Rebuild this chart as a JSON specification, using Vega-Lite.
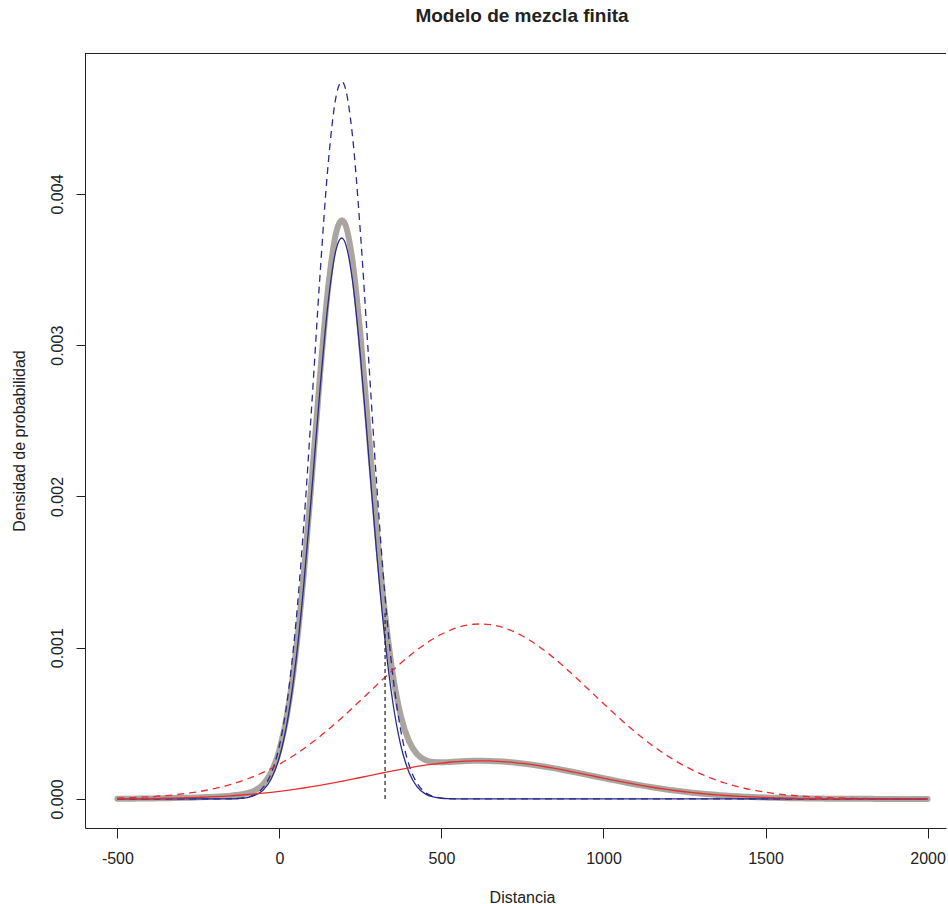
{
  "$schema": "https://vega.github.io/schema/vega-lite/v6.json",
  "width": 861,
  "height": 775,
  "autosize": "none",
  "padding": {"left": 85, "top": 53, "right": 2, "bottom": 76},
  "background": "white",
  "config": {
    "view": {"stroke": null},
    "font": "Liberation Sans",
    "axisX": {"labelExpr": "'' + datum.value", "titleX": 437, "titleY": 74, "titleAlign": "center", "titleBaseline": "alphabetic", "titleFontSize": 16, "titleFontWeight": "normal", "titleFont": "Liberation Sans", "titleColor": "#222222", "labelFont": "Liberation Sans", "labelFontSize": 16, "labelColor": "#222222", "labelBaseline": "alphabetic", "labelPadding": 25, "labelFlush": false, "labelOverlap": false, "tickSize": 10, "tickColor": "#222222", "domainColor": "#222222", "grid": false},
    "axisY": {"titleX": -60.5, "titleY": 387.5, "titleAngle": -90, "titleAlign": "center", "titleBaseline": "alphabetic", "titleFontSize": 16, "titleFontWeight": "normal", "titleFont": "Liberation Sans", "titleColor": "#222222", "labelFont": "Liberation Sans", "labelFontSize": 16, "labelColor": "#222222", "labelAngle": -90, "labelAlign": "center", "labelBaseline": "alphabetic", "labelPadding": 14, "labelFlush": false, "labelOverlap": false, "tickSize": 9, "tickColor": "#222222", "domainColor": "#222222", "grid": false}
  },
  "title": {"text": "Modelo de mezcla finita", "fontSize": 19, "fontWeight": "bold", "font": "Liberation Sans", "color": "#222222", "anchor": "middle", "dx": 6.5, "offset": 12, "baseline": "alphabetic"},
  "datasets": {
    "curves": [
      {"x": -500, "f1": 0, "b": 0, "f2": 5.95e-6, "r": 1.30e-6, "m": 1.30e-6},
      {"x": -475, "f1": 0, "b": 0, "f2": 7.52e-6, "r": 1.64e-6, "m": 1.64e-6},
      {"x": -450, "f1": 0, "b": 0, "f2": 9.43e-6, "r": 2.06e-6, "m": 2.06e-6},
      {"x": -425, "f1": 0, "b": 0, "f2": 1.178e-5, "r": 2.57e-6, "m": 2.57e-6},
      {"x": -400, "f1": 0, "b": 0, "f2": 1.463e-5, "r": 3.19e-6, "m": 3.19e-6},
      {"x": -375, "f1": 0, "b": 0, "f2": 1.808e-5, "r": 3.94e-6, "m": 3.94e-6},
      {"x": -350, "f1": 0, "b": 0, "f2": 2.223e-5, "r": 4.85e-6, "m": 4.85e-6},
      {"x": -325, "f1": 0, "b": 0, "f2": 2.718e-5, "r": 5.92e-6, "m": 5.92e-6},
      {"x": -300, "f1": 0, "b": 0, "f2": 3.306e-5, "r": 7.21e-6, "m": 7.21e-6},
      {"x": -275, "f1": 0, "b": 0, "f2": 4.000e-5, "r": 8.72e-6, "m": 8.72e-6},
      {"x": -250, "f1": 0, "b": 0, "f2": 4.814e-5, "r": 1.049e-5, "m": 1.049e-5},
      {"x": -225, "f1": 0, "b": 0, "f2": 5.763e-5, "r": 1.256e-5, "m": 1.256e-5},
      {"x": -200, "f1": 1e-7, "b": 1e-7, "f2": 6.866e-5, "r": 1.497e-5, "m": 1.507e-5},
      {"x": -175, "f1": 3.6e-7, "b": 2.8e-7, "f2": 8.133e-5, "r": 1.773e-5, "m": 1.80e-5},
      {"x": -150, "f1": 1.24e-6, "b": 9.7e-7, "f2": 9.584e-5, "r": 2.089e-5, "m": 2.19e-5},
      {"x": -125, "f1": 3.96e-6, "b": 3.10e-6, "f2": 1.1239e-4, "r": 2.450e-5, "m": 2.76e-5},
      {"x": -100, "f1": 1.16e-5, "b": 9.07e-6, "f2": 1.3110e-4, "r": 2.858e-5, "m": 3.77e-5},
      {"x": -75, "f1": 3.11e-5, "b": 2.43e-5, "f2": 1.5209e-4, "r": 3.316e-5, "m": 5.75e-5},
      {"x": -50, "f1": 7.63e-5, "b": 5.97e-5, "f2": 1.7553e-4, "r": 3.827e-5, "m": 9.80e-5},
      {"x": -25, "f1": 1.713e-4, "b": 1.340e-4, "f2": 2.0153e-4, "r": 4.393e-5, "m": 1.779e-4},
      {"x": 0, "f1": 3.523e-4, "b": 2.755e-4, "f2": 2.3016e-4, "r": 5.017e-5, "m": 3.257e-4},
      {"x": 25, "f1": 6.635e-4, "b": 5.189e-4, "f2": 2.6149e-4, "r": 5.700e-5, "m": 5.759e-4},
      {"x": 50, "f1": 1.144e-3, "b": 8.946e-4, "f2": 2.9553e-4, "r": 6.443e-5, "m": 9.590e-4},
      {"x": 75, "f1": 1.806e-3, "b": 1.4123e-3, "f2": 3.3226e-4, "r": 7.243e-5, "m": 1.4847e-3},
      {"x": 100, "f1": 2.611e-3, "b": 2.0418e-3, "f2": 3.7155e-4, "r": 8.100e-5, "m": 2.1228e-3},
      {"x": 125, "f1": 3.456e-3, "b": 2.7026e-3, "f2": 4.1334e-4, "r": 9.011e-5, "m": 2.7927e-3},
      {"x": 150, "f1": 4.188e-3, "b": 3.2750e-3, "f2": 4.5742e-4, "r": 9.972e-5, "m": 3.3747e-3},
      {"x": 175, "f1": 4.647e-3, "b": 3.6340e-3, "f2": 5.0355e-4, "r": 1.0977e-4, "m": 3.7438e-3},
      {"x": 192, "f1": 4.743e-3, "b": 3.7090e-3, "f2": 5.3595e-4, "r": 1.1684e-4, "m": 3.8258e-3},
      {"x": 200, "f1": 4.722e-3, "b": 3.6926e-3, "f2": 5.5146e-4, "r": 1.2022e-4, "m": 3.8128e-3},
      {"x": 225, "f1": 4.393e-3, "b": 3.4353e-3, "f2": 6.0075e-4, "r": 1.3096e-4, "m": 3.5663e-3},
      {"x": 250, "f1": 3.741e-3, "b": 2.9255e-3, "f2": 6.5100e-4, "r": 1.4192e-4, "m": 3.0674e-3},
      {"x": 275, "f1": 2.918e-3, "b": 2.2819e-3, "f2": 7.0176e-4, "r": 1.5298e-4, "m": 2.4349e-3},
      {"x": 300, "f1": 2.084e-3, "b": 1.6297e-3, "f2": 7.5252e-4, "r": 1.6405e-4, "m": 1.7938e-3},
      {"x": 325, "f1": 1.362e-3, "b": 1.0651e-3, "f2": 8.0274e-4, "r": 1.7500e-4, "m": 1.2401e-3},
      {"x": 350, "f1": 8.154e-4, "b": 6.376e-4, "f2": 8.5178e-4, "r": 1.8569e-4, "m": 8.233e-4},
      {"x": 375, "f1": 4.470e-4, "b": 3.496e-4, "f2": 8.9915e-4, "r": 1.9601e-4, "m": 5.456e-4},
      {"x": 400, "f1": 2.244e-4, "b": 1.755e-4, "f2": 9.4412e-4, "r": 2.0582e-4, "m": 3.813e-4},
      {"x": 425, "f1": 1.031e-4, "b": 8.06e-5, "f2": 9.8620e-4, "r": 2.1499e-4, "m": 2.956e-4},
      {"x": 450, "f1": 4.34e-5, "b": 3.39e-5, "f2": 1.02473e-3, "r": 2.2339e-4, "m": 2.573e-4},
      {"x": 475, "f1": 1.67e-5, "b": 1.31e-5, "f2": 1.05919e-3, "r": 2.3090e-4, "m": 2.440e-4},
      {"x": 500, "f1": 5.9e-6, "b": 4.6e-6, "f2": 1.08908e-3, "r": 2.3742e-4, "m": 2.420e-4},
      {"x": 525, "f1": 1.9e-6, "b": 1.5e-6, "f2": 1.11396e-3, "r": 2.4284e-4, "m": 2.443e-4},
      {"x": 550, "f1": 5.6e-7, "b": 4.4e-7, "f2": 1.13343e-3, "r": 2.4709e-4, "m": 2.475e-4},
      {"x": 575, "f1": 1.5e-7, "b": 1.2e-7, "f2": 1.14720e-3, "r": 2.5009e-4, "m": 2.5021e-4},
      {"x": 600, "f1": 0, "b": 0, "f2": 1.15506e-3, "r": 2.5181e-4, "m": 2.5181e-4},
      {"x": 625, "f1": 0, "b": 0, "f2": 1.15688e-3, "r": 2.5220e-4, "m": 2.5220e-4},
      {"x": 650, "f1": 0, "b": 0, "f2": 1.15264e-3, "r": 2.5128e-4, "m": 2.5128e-4},
      {"x": 675, "f1": 0, "b": 0, "f2": 1.14239e-3, "r": 2.4904e-4, "m": 2.4904e-4},
      {"x": 700, "f1": 0, "b": 0, "f2": 1.12631e-3, "r": 2.4553e-4, "m": 2.4553e-4},
      {"x": 725, "f1": 0, "b": 0, "f2": 1.10465e-3, "r": 2.4081e-4, "m": 2.4081e-4},
      {"x": 750, "f1": 0, "b": 0, "f2": 1.07771e-3, "r": 2.3494e-4, "m": 2.3494e-4},
      {"x": 775, "f1": 0, "b": 0, "f2": 1.04594e-3, "r": 2.2801e-4, "m": 2.2801e-4},
      {"x": 800, "f1": 0, "b": 0, "f2": 1.00977e-3, "r": 2.2013e-4, "m": 2.2013e-4},
      {"x": 825, "f1": 0, "b": 0, "f2": 9.6976e-4, "r": 2.1141e-4, "m": 2.1141e-4},
      {"x": 850, "f1": 0, "b": 0, "f2": 9.2646e-4, "r": 2.0197e-4, "m": 2.0197e-4},
      {"x": 875, "f1": 0, "b": 0, "f2": 8.8044e-4, "r": 1.9194e-4, "m": 1.9194e-4},
      {"x": 900, "f1": 0, "b": 0, "f2": 8.3231e-4, "r": 1.8144e-4, "m": 1.8144e-4},
      {"x": 925, "f1": 0, "b": 0, "f2": 7.8271e-4, "r": 1.7063e-4, "m": 1.7063e-4},
      {"x": 950, "f1": 0, "b": 0, "f2": 7.3221e-4, "r": 1.5962e-4, "m": 1.5962e-4},
      {"x": 975, "f1": 0, "b": 0, "f2": 6.8143e-4, "r": 1.4855e-4, "m": 1.4855e-4},
      {"x": 1000, "f1": 0, "b": 0, "f2": 6.3081e-4, "r": 1.3752e-4, "m": 1.3752e-4},
      {"x": 1025, "f1": 0, "b": 0, "f2": 5.8089e-4, "r": 1.2663e-4, "m": 1.2663e-4},
      {"x": 1050, "f1": 0, "b": 0, "f2": 5.3210e-4, "r": 1.1600e-4, "m": 1.1600e-4},
      {"x": 1075, "f1": 0, "b": 0, "f2": 4.8489e-4, "r": 1.0571e-4, "m": 1.0571e-4},
      {"x": 1100, "f1": 0, "b": 0, "f2": 4.3951e-4, "r": 9.581e-5, "m": 9.581e-5},
      {"x": 1125, "f1": 0, "b": 0, "f2": 3.9635e-4, "r": 8.640e-5, "m": 8.640e-5},
      {"x": 1150, "f1": 0, "b": 0, "f2": 3.5552e-4, "r": 7.750e-5, "m": 7.750e-5},
      {"x": 1175, "f1": 0, "b": 0, "f2": 3.1723e-4, "r": 6.916e-5, "m": 6.916e-5},
      {"x": 1200, "f1": 0, "b": 0, "f2": 2.8158e-4, "r": 6.138e-5, "m": 6.138e-5},
      {"x": 1225, "f1": 0, "b": 0, "f2": 2.4864e-4, "r": 5.420e-5, "m": 5.420e-5},
      {"x": 1250, "f1": 0, "b": 0, "f2": 2.1842e-4, "r": 4.762e-5, "m": 4.762e-5},
      {"x": 1275, "f1": 0, "b": 0, "f2": 1.9084e-4, "r": 4.160e-5, "m": 4.160e-5},
      {"x": 1300, "f1": 0, "b": 0, "f2": 1.6587e-4, "r": 3.616e-5, "m": 3.616e-5},
      {"x": 1325, "f1": 0, "b": 0, "f2": 1.4340e-4, "r": 3.126e-5, "m": 3.126e-5},
      {"x": 1350, "f1": 0, "b": 0, "f2": 1.2329e-4, "r": 2.688e-5, "m": 2.688e-5},
      {"x": 1375, "f1": 0, "b": 0, "f2": 1.0553e-4, "r": 2.300e-5, "m": 2.300e-5},
      {"x": 1400, "f1": 0, "b": 0, "f2": 8.983e-5, "r": 1.958e-5, "m": 1.958e-5},
      {"x": 1425, "f1": 0, "b": 0, "f2": 7.605e-5, "r": 1.658e-5, "m": 1.658e-5},
      {"x": 1450, "f1": 0, "b": 0, "f2": 6.406e-5, "r": 1.397e-5, "m": 1.397e-5},
      {"x": 1475, "f1": 0, "b": 0, "f2": 5.366e-5, "r": 1.170e-5, "m": 1.170e-5},
      {"x": 1500, "f1": 0, "b": 0, "f2": 4.472e-5, "r": 9.75e-6, "m": 9.75e-6},
      {"x": 1525, "f1": 0, "b": 0, "f2": 3.708e-5, "r": 8.08e-6, "m": 8.08e-6},
      {"x": 1550, "f1": 0, "b": 0, "f2": 3.058e-5, "r": 6.67e-6, "m": 6.67e-6},
      {"x": 1575, "f1": 0, "b": 0, "f2": 2.508e-5, "r": 5.47e-6, "m": 5.47e-6},
      {"x": 1600, "f1": 0, "b": 0, "f2": 2.047e-5, "r": 4.46e-6, "m": 4.46e-6},
      {"x": 1625, "f1": 0, "b": 0, "f2": 1.661e-5, "r": 3.62e-6, "m": 3.62e-6},
      {"x": 1650, "f1": 0, "b": 0, "f2": 1.342e-5, "r": 2.93e-6, "m": 2.93e-6},
      {"x": 1675, "f1": 0, "b": 0, "f2": 1.078e-5, "r": 2.35e-6, "m": 2.35e-6},
      {"x": 1700, "f1": 0, "b": 0, "f2": 8.62e-6, "r": 1.88e-6, "m": 1.88e-6},
      {"x": 1725, "f1": 0, "b": 0, "f2": 6.85e-6, "r": 1.49e-6, "m": 1.49e-6},
      {"x": 1750, "f1": 0, "b": 0, "f2": 5.42e-6, "r": 1.18e-6, "m": 1.18e-6},
      {"x": 1775, "f1": 0, "b": 0, "f2": 4.26e-6, "r": 9.3e-7, "m": 9.3e-7},
      {"x": 1800, "f1": 0, "b": 0, "f2": 3.33e-6, "r": 7.3e-7, "m": 7.3e-7},
      {"x": 1825, "f1": 0, "b": 0, "f2": 2.59e-6, "r": 5.7e-7, "m": 5.7e-7},
      {"x": 1850, "f1": 0, "b": 0, "f2": 2.01e-6, "r": 4.4e-7, "m": 4.4e-7},
      {"x": 1875, "f1": 0, "b": 0, "f2": 1.55e-6, "r": 3.4e-7, "m": 3.4e-7},
      {"x": 1900, "f1": 0, "b": 0, "f2": 1.19e-6, "r": 2.6e-7, "m": 2.6e-7},
      {"x": 1925, "f1": 0, "b": 0, "f2": 9.0e-7, "r": 2.0e-7, "m": 2.0e-7},
      {"x": 1950, "f1": 0, "b": 0, "f2": 6.9e-7, "r": 1.5e-7, "m": 1.5e-7},
      {"x": 1975, "f1": 0, "b": 0, "f2": 5.2e-7, "r": 1.1e-7, "m": 1.1e-7},
      {"x": 2000, "f1": 0, "b": 0, "f2": 3.9e-7, "r": 8e-8, "m": 8e-8}
    ],
    "cut": [{"x": 326, "y0": 0, "y1": 0.00125}],
    "frame": [{"top": 0.0049287}]
  },
  "layer": [
    {
      "data": {"name": "curves"},
      "mark": {"type": "line", "interpolate": "monotone", "strokeWidth": 6, "color": "#aaa59f", "strokeCap": "round", "clip": true},
      "encoding": {
        "x": {"field": "x", "type": "quantitative", "title": "Distancia", "scale": {"domain": [-600, 2057], "nice": false, "zero": false}, "axis": {"values": [-500, 0, 500, 1000, 1500, 2000]}},
        "y": {"field": "m", "type": "quantitative", "title": "Densidad de probabilidad", "scale": {"domain": [-0.000192, 0.004932], "nice": false, "zero": false}, "axis": {"values": [0, 0.001, 0.002, 0.003, 0.004], "format": ".3f"}}
      }
    },
    {
      "data": {"name": "curves"},
      "mark": {"type": "line", "interpolate": "monotone", "strokeWidth": 1.3, "color": "#2b2b8c", "strokeDash": [7, 5], "clip": true},
      "encoding": {
        "x": {"field": "x", "type": "quantitative", "title": "Distancia", "scale": {"domain": [-600, 2057], "nice": false, "zero": false}, "axis": {"values": [-500, 0, 500, 1000, 1500, 2000]}},
        "y": {"field": "f1", "type": "quantitative", "title": "Densidad de probabilidad", "scale": {"domain": [-0.000192, 0.004932], "nice": false, "zero": false}, "axis": {"values": [0, 0.001, 0.002, 0.003, 0.004], "format": ".3f"}}
      }
    },
    {
      "data": {"name": "curves"},
      "mark": {"type": "line", "interpolate": "monotone", "strokeWidth": 1.3, "color": "#e62e2e", "strokeDash": [7, 5], "clip": true},
      "encoding": {
        "x": {"field": "x", "type": "quantitative", "title": "Distancia", "scale": {"domain": [-600, 2057], "nice": false, "zero": false}, "axis": {"values": [-500, 0, 500, 1000, 1500, 2000]}},
        "y": {"field": "f2", "type": "quantitative", "title": "Densidad de probabilidad", "scale": {"domain": [-0.000192, 0.004932], "nice": false, "zero": false}, "axis": {"values": [0, 0.001, 0.002, 0.003, 0.004], "format": ".3f"}}
      }
    },
    {
      "data": {"name": "curves"},
      "mark": {"type": "line", "interpolate": "monotone", "strokeWidth": 1.3, "color": "#2b2b8c", "clip": true},
      "encoding": {
        "x": {"field": "x", "type": "quantitative", "title": "Distancia", "scale": {"domain": [-600, 2057], "nice": false, "zero": false}, "axis": {"values": [-500, 0, 500, 1000, 1500, 2000]}},
        "y": {"field": "b", "type": "quantitative", "title": "Densidad de probabilidad", "scale": {"domain": [-0.000192, 0.004932], "nice": false, "zero": false}, "axis": {"values": [0, 0.001, 0.002, 0.003, 0.004], "format": ".3f"}}
      }
    },
    {
      "data": {"name": "curves"},
      "mark": {"type": "line", "interpolate": "monotone", "strokeWidth": 1.3, "color": "#e62e2e", "clip": true},
      "encoding": {
        "x": {"field": "x", "type": "quantitative", "title": "Distancia", "scale": {"domain": [-600, 2057], "nice": false, "zero": false}, "axis": {"values": [-500, 0, 500, 1000, 1500, 2000]}},
        "y": {"field": "r", "type": "quantitative", "title": "Densidad de probabilidad", "scale": {"domain": [-0.000192, 0.004932], "nice": false, "zero": false}, "axis": {"values": [0, 0.001, 0.002, 0.003, 0.004], "format": ".3f"}}
      }
    },
    {
      "data": {"name": "cut"},
      "mark": {"type": "rule", "strokeWidth": 1.3, "color": "#333333", "strokeDash": [4, 3]},
      "encoding": {
        "x": {"field": "x", "type": "quantitative", "title": "Distancia", "scale": {"domain": [-600, 2057], "nice": false, "zero": false}, "axis": {"values": [-500, 0, 500, 1000, 1500, 2000]}},
        "y": {"field": "y0", "type": "quantitative", "title": "Densidad de probabilidad", "scale": {"domain": [-0.000192, 0.004932], "nice": false, "zero": false}, "axis": {"values": [0, 0.001, 0.002, 0.003, 0.004], "format": ".3f"}},
        "y2": {"field": "y1"}
      }
    },
    {
      "data": {"name": "frame"},
      "mark": {"type": "rule", "strokeWidth": 1, "color": "#222222"},
      "encoding": {
        "y": {"field": "top", "type": "quantitative", "title": "Densidad de probabilidad", "scale": {"domain": [-0.000192, 0.004932], "nice": false, "zero": false}, "axis": {"values": [0, 0.001, 0.002, 0.003, 0.004], "format": ".3f"}}
      }
    }
  ]
}
